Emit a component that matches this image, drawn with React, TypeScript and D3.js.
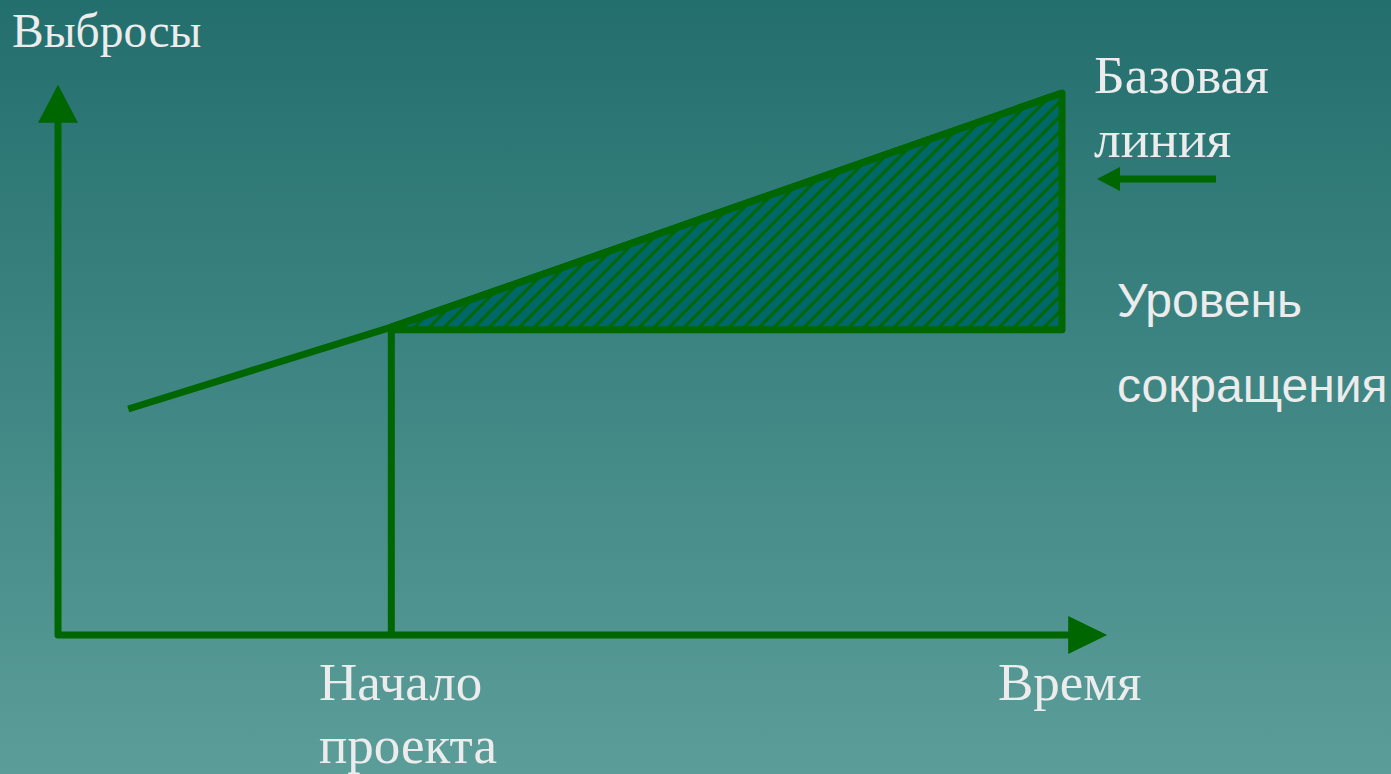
import React from "react";
import * as d3 from "d3";

// Data (in arbitrary "time" and "emissions" units)
const baselineTime = [0.7, 3.32, 10];
const baselineEmissions = [4.17, 5.68, 10];
const projectStartTime = 3.32;
const reductionLevel = 5.63;
const endTime = 10;
const axisMaxTime = 10.45;
const axisMaxEmissions = 10.15;

const yAxisLabel = "Выбросы";
const xAxisLabel = "Время";
const projectLabel = ["Начало", "проекта"];
const baselineLabel = ["Базовая", "линия"];
const levelLabel = ["Уровень", "сокращения"];

const W = 1391;
const H = 774;
const GREEN = "#006600";
const TEXT = "#ececec";

export default function App() {
  const x = d3.scaleLinear().domain([0, 10]).range([58, 1062]);
  const y = d3.scaleLinear().domain([0, 10]).range([635, 93]);

  const pts: [number, number][] = baselineTime.map((t, i) => [t, baselineEmissions[i]]);
  const line = d3
    .line<[number, number]>()
    .x((d) => x(d[0]))
    .y((d) => y(d[1]));

  const baseAt = d3.scaleLinear().domain(baselineTime).range(baselineEmissions);
  const area: [number, number][] = [
    [projectStartTime, reductionLevel],
    [projectStartTime, baseAt(projectStartTime)],
    [endTime, baseAt(endTime)],
    [endTime, reductionLevel],
  ];

  const ox = x(0);
  const oy = y(0);
  const yTip = y(axisMaxEmissions);
  const xTip = x(axisMaxTime);

  const serif = "'Liberation Serif', 'Times New Roman', serif";
  const sans = "'Liberation Sans', Arial, sans-serif";

  return (
    <svg
      width={W}
      height={H}
      style={{ position: "absolute", left: 0, top: 0, display: "block" }}
    >
      <defs>
        <linearGradient id="bg" x1="0" y1="0" x2="0" y2="1">
          <stop offset="0" stopColor="#236f6e" />
          <stop offset="1" stopColor="#5b9d99" />
        </linearGradient>
        <pattern
          id="hatch"
          patternUnits="userSpaceOnUse"
          width={10.6}
          height={10.6}
          patternTransform="rotate(45)"
        >
          <rect width={10.6} height={10.6} fill="#006868" />
          <line x1={5} y1={0} x2={5} y2={10.6} stroke={GREEN} strokeWidth={3} />
        </pattern>
      </defs>
      <rect width={W} height={H} fill="url(#bg)" />

      {/* hatched reduction area */}
      <path
        d={line(area) + "Z"}
        fill="url(#hatch)"
        stroke={GREEN}
        strokeWidth={7}
        strokeLinejoin="round"
      />
      {/* project start vertical */}
      <line
        x1={x(projectStartTime)}
        x2={x(projectStartTime)}
        y1={y(reductionLevel)}
        y2={oy}
        stroke={GREEN}
        strokeWidth={7}
      />
      {/* baseline */}
      <path d={line(pts) || ""} fill="none" stroke={GREEN} strokeWidth={7} strokeLinejoin="round" />

      {/* axes */}
      <path
        d={`M${ox},${yTip + 36}L${ox},${oy}L${xTip - 37},${oy}`}
        fill="none"
        stroke={GREEN}
        strokeWidth={7}
        strokeLinejoin="round"
        strokeLinecap="round"
      />
      <path d={`M${ox},${yTip}L${ox - 20},${yTip + 38}L${ox + 20},${yTip + 38}Z`} fill={GREEN} />
      <path d={`M${xTip},${oy}L${xTip - 39},${oy - 19}L${xTip - 39},${oy + 19}Z`} fill={GREEN} />

      {/* small arrow */}
      <line x1={1216} x2={1118} y1={179} y2={179} stroke={GREEN} strokeWidth={7} />
      <path d="M1097,179L1120,167L1120,191Z" fill={GREEN} />

      {/* labels */}
      <text x={12} y={47} fontFamily={serif} fontSize={47.5} fill={TEXT}>
        {yAxisLabel}
      </text>
      <text x={1094} y={93} fontFamily={serif} fontSize={53.5} fill={TEXT}>
        {baselineLabel[0]}
      </text>
      <text x={1094} y={157} fontFamily={serif} fontSize={53.5} fill={TEXT}>
        {baselineLabel[1]}
      </text>
      <text x={1117} y={317} fontFamily={sans} fontSize={48} fill={TEXT}>
        {levelLabel[0]}
      </text>
      <text x={1117} y={402} fontFamily={sans} fontSize={48} fill={TEXT}>
        {levelLabel[1]}
      </text>
      <text x={319} y={700} fontFamily={serif} fontSize={53} fill={TEXT}>
        {projectLabel[0]}
      </text>
      <text x={319} y={763} fontFamily={serif} fontSize={53} fill={TEXT}>
        {projectLabel[1]}
      </text>
      <text x={998} y={700} fontFamily={serif} fontSize={53} fill={TEXT}>
        {xAxisLabel}
      </text>
    </svg>
  );
}
